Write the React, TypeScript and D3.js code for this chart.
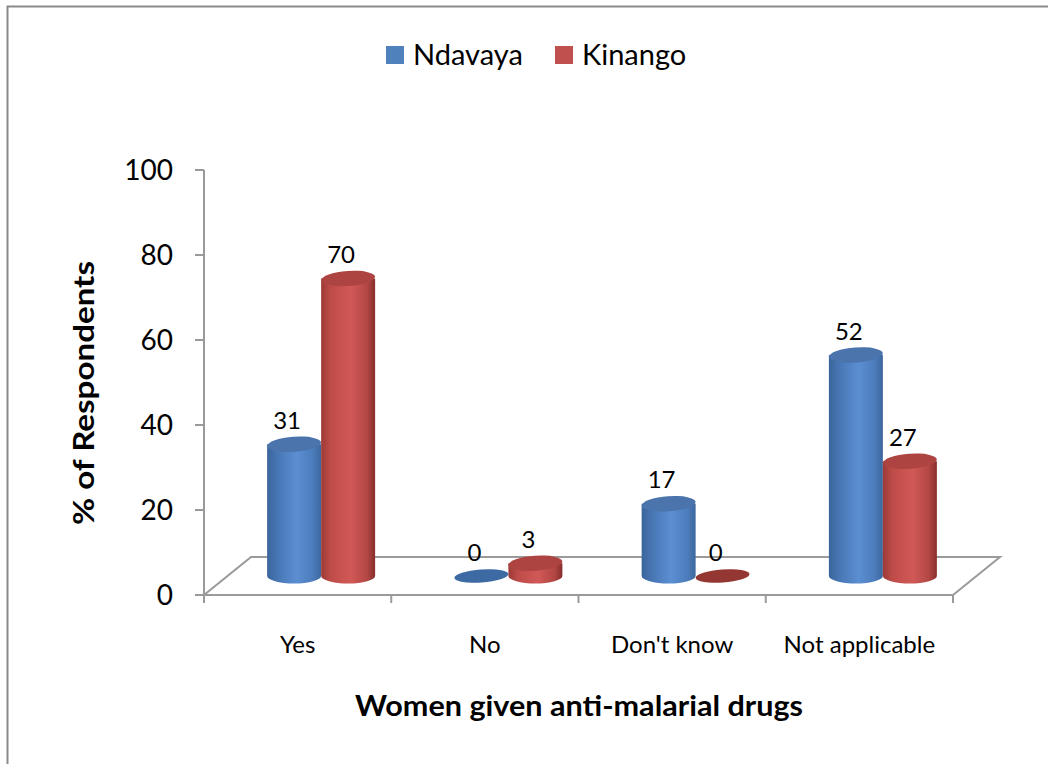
import React from "react";
import * as d3 from "d3";

const categories = ["Yes", "No", "Don't know", "Not applicable"];
const seriesNames = ["Ndavaya", "Kinango"];
const ndavaya = [31, 0, 17, 52];
const kinango = [70, 3, 0, 27];
const yTicks = [0, 20, 40, 60, 80, 100];

const W = 1048;
const H = 764;
const FONT = "Lato, 'Open Sans', sans-serif";

export default function App() {
  const x0 = 204;
  const x1 = 953;
  const y = d3.scaleLinear().domain([0, 100]).range([595, 170]);
  const xCat = d3.scaleBand<string>().domain(categories).range([x0, x1]).padding(0);
  const bw = xCat.bandwidth();
  const barW = 54;
  const xSer = d3
    .scaleBand<string>()
    .domain(seriesNames)
    .range([bw / 2 - barW, bw / 2 + barW])
    .padding(0);
  const depthX = 47;
  const depthY = -38;
  const midDX = depthX / 2;
  const midDY = depthY / 2;
  const rx = barW / 2;
  const ry = 7.5;
  const tilt = -4;

  const series = [
    { name: seriesNames[0], values: ndavaya, grad: "gBlue", top: "#4a74ab", legend: "#4f81bd", zero: "#3e6aa3" },
    { name: seriesNames[1], values: kinango, grad: "gRed", top: "#ae4441", legend: "#c0504d", zero: "#943733" },
  ];

  const axisColor = "#9a9a9a";

  return (
    <svg width={W} height={H} style={{ position: "absolute", left: 0, top: 0, background: "#fff" }}>
      <defs>
        <linearGradient id="gBlue" x1="0" x2="1" y1="0" y2="0">
          <stop offset="0%" stopColor="#3a659c" />
          <stop offset="18%" stopColor="#4775b3" />
          <stop offset="55%" stopColor="#5b8fd2" />
          <stop offset="85%" stopColor="#4c7cbb" />
          <stop offset="100%" stopColor="#3d679e" />
        </linearGradient>
        <linearGradient id="gRed" x1="0" x2="1" y1="0" y2="0">
          <stop offset="0%" stopColor="#9c3a37" />
          <stop offset="18%" stopColor="#bf4c49" />
          <stop offset="55%" stopColor="#d05957" />
          <stop offset="85%" stopColor="#b34744" />
          <stop offset="100%" stopColor="#872e2c" />
        </linearGradient>
      </defs>

      {/* outer frame */}
      <rect x={7.5} y={6.5} width={W + 10} height={H + 10} fill="none" stroke="#8a8a8a" strokeWidth={2} />

      {/* legend */}
      <g fontFamily={FONT} fontSize={29} fill="#000">
        <rect x={386} y={46} width={18} height={18} fill={series[0].legend} />
        <text x={413} y={65}>{series[0].name}</text>
        <rect x={555} y={46} width={18} height={18} fill={series[1].legend} />
        <text x={582} y={65}>{series[1].name}</text>
      </g>

      {/* floor */}
      <g stroke={axisColor} strokeWidth={2} fill="none">
        <path
          d={`M${x0},${y(0)} L${x0 + depthX},${y(0) + depthY} L${x1 + depthX},${y(0) + depthY} L${x1},${y(0)} Z`}
        />
      </g>

      {/* y axis */}
      <g stroke={axisColor} strokeWidth={2}>
        <line x1={x0} x2={x0} y1={y(100)} y2={y(0) + 8} />
        {yTicks.map((t) => (
          <line key={t} x1={x0 - 9} x2={x0} y1={y(t)} y2={y(t)} />
        ))}
        {d3.range(categories.length + 1).map((i) => {
          const xx = x0 + i * bw;
          return <line key={i} x1={xx} x2={xx} y1={y(0)} y2={y(0) + 8} />;
        })}
      </g>
      <g fontFamily={FONT} fontSize={28} fill="#000" textAnchor="end">
        {yTicks.map((t) => (
          <text key={t} x={x0 - 31} y={y(t) + 10}>
            {t}
          </text>
        ))}
      </g>

      {/* bars */}
      {categories.map((c, ci) => (
        <g key={c}>
          {series.map((s) => {
            const v = s.values[ci];
            const cx = (xCat(c) as number) + (xSer(s.name) as number) + rx + midDX;
            const base = y(0) + midDY;
            const topY = y(v) + midDY;
            if (v === 0) {
              return (
                <ellipse
                  key={s.name}
                  cx={cx}
                  cy={base}
                  rx={rx}
                  ry={ry - 1}
                  fill={s.zero}
                  transform={`rotate(${tilt},${cx},${base})`}
                />
              );
            }
            const body = `M${cx - rx},${topY} L${cx - rx},${base} A${rx},${ry} 0 0 0 ${cx + rx},${base} L${cx + rx},${topY} Z`;
            return (
              <g key={s.name}>
                <path d={body} fill={`url(#${s.grad})`} />
                <ellipse
                  cx={cx}
                  cy={topY}
                  rx={rx}
                  ry={ry}
                  fill={s.top}
                  transform={`rotate(${tilt},${cx},${topY})`}
                />
              </g>
            );
          })}
        </g>
      ))}

      {/* data labels */}
      <g fontFamily={FONT} fontSize={24} fill="#000" textAnchor="middle">
        {categories.map((c, ci) =>
          series.map((s) => {
            const v = s.values[ci];
            const cx = (xCat(c) as number) + (xSer(s.name) as number) + rx + midDX - 7;
            const topY = y(v) + midDY;
            return (
              <text key={c + s.name} x={cx} y={topY - ry - 8}>
                {v}
              </text>
            );
          })
        )}
      </g>

      {/* category labels */}
      <g fontFamily={FONT} fontSize={24} fill="#000" textAnchor="middle">
        {categories.map((c) => (
          <text key={c} x={(xCat(c) as number) + bw / 2} y={653}>
            {c}
          </text>
        ))}
      </g>

      {/* axis titles */}
      <text
        x={579}
        y={716}
        fontFamily={FONT}
        fontSize={28}
        fontWeight="bold"
        textAnchor="middle"
        fill="#000"
        textLength={448}
        lengthAdjust="spacingAndGlyphs"
      >
        Women given anti-malarial  drugs
      </text>
      <text
        transform={`translate(94,393) rotate(-90)`}
        fontFamily={FONT}
        fontSize={29}
        fontWeight="bold"
        textAnchor="middle"
        fill="#000"
        textLength={264}
        lengthAdjust="spacingAndGlyphs"
      >
        % of Respondents
      </text>
    </svg>
  );
}
